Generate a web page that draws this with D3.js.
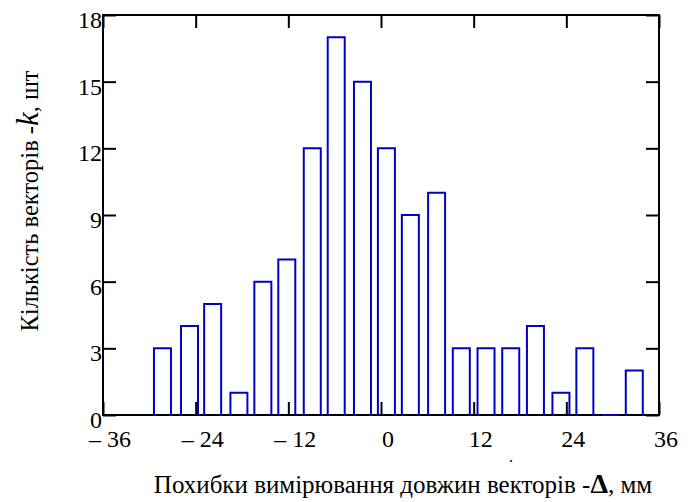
<!DOCTYPE html>
<html>
<head>
<meta charset="utf-8">
<script src="https://cdn.jsdelivr.net/npm/d3@7"></script>
<style>
  html, body { margin: 0; padding: 0; background: #fff; }
  svg { display: block; font-family: "Liberation Serif", "Times New Roman", serif; }
</style>
</head>
<body>
<svg id="chart" width="691" height="502"></svg>
<script>
// ---- data ----
const binCenters = [-28.3, -24.8, -21.8, -18.4, -15.3, -12.2, -8.9, -5.8, -2.4, 0.7,
                    3.8, 7.2, 10.4, 13.6, 16.8, 20.0, 23.3, 26.4, 29.7, 32.8];
const counts     = [3, 4, 5, 1, 6, 7, 12, 17, 15, 12,
                    9, 10, 3, 3, 3, 4, 1, 3, 0, 2];
const xTicks = [-36, -24, -12, 0, 12, 24, 36];
const yTicks = [0, 3, 6, 9, 12, 15, 18];
const xTickLabels = ["\u2013 36", "\u2013 24", "\u2013 12", "0", "12", "24", "36"];
const yTickLabels = ["0", "3", "6", "9", "12", "15", "18"];

// ---- layout ----
const L = 103, R = 659, T = 15, B = 415;
const svg = d3.select("#chart");
const x = d3.scaleLinear().domain([-36, 36]).range([L, R]);
const y = d3.scaleLinear().domain([0, 18]).range([B, T]);
const barW = 17;
const blue = "#0000c8";
const tickLen = 13;

// frame
svg.append("rect").attr("x", L).attr("y", T).attr("width", R - L).attr("height", B - T)
  .attr("fill", "none").attr("stroke", "#000").attr("stroke-width", 2);

// axes with inward ticks
const axB = svg.append("g").attr("transform", `translate(0,${B})`)
  .call(d3.axisTop(x).tickValues(xTicks).tickSize(tickLen).tickFormat(""));
const axT = svg.append("g").attr("transform", `translate(0,${T})`)
  .call(d3.axisBottom(x).tickValues(xTicks).tickSize(tickLen).tickFormat(""));
const axL = svg.append("g").attr("transform", `translate(${L},0)`)
  .call(d3.axisRight(y).tickValues(yTicks).tickSize(tickLen).tickFormat(""));
const axR = svg.append("g").attr("transform", `translate(${R},0)`)
  .call(d3.axisLeft(y).tickValues(yTicks).tickSize(tickLen).tickFormat(""));
[axB, axT, axL, axR].forEach(g => {
  g.select(".domain").remove();
  g.selectAll(".tick line").attr("stroke", "#000").attr("stroke-width", 2);
});

// tick labels
svg.append("g").selectAll("text").data(xTicks).join("text")
  .attr("x", d => x(d) + 7).attr("y", B + 32)
  .attr("text-anchor", "middle").attr("font-size", 24).attr("fill", "#000")
  .text((d, i) => xTickLabels[i]);
svg.append("g").selectAll("text").data(yTicks).join("text")
  .attr("x", L - 1).attr("y", d => y(d) + 13)
  .attr("text-anchor", "end").attr("font-size", 24).attr("fill", "#000")
  .text((d, i) => yTickLabels[i]);

// bars (open outlines)
svg.append("g").selectAll("path").data(binCenters).join("path")
  .attr("d", (c, i) => {
    const x0 = x(c) - barW / 2, x1 = x(c) + barW / 2, yt = y(counts[i]);
    return `M${x0},${B}V${yt}H${x1}V${B}`;
  })
  .attr("fill", "none").attr("stroke", blue).attr("stroke-width", 2);

// axis titles
const xt = svg.append("text").attr("x", 403).attr("y", 493)
  .attr("text-anchor", "middle").attr("font-size", 25).attr("fill", "#000");
xt.append("tspan").text("Похибки вимірювання довжин векторів -");
xt.append("tspan").attr("font-weight", "bold").attr("font-size", 28).text("\u0394");
xt.append("tspan").text(", мм");

const yt = svg.append("text").attr("transform", `translate(38,201) rotate(-90)`)
  .attr("text-anchor", "middle").attr("font-size", 24.5).attr("fill", "#000");
yt.append("tspan").text("Кількість векторів -");
yt.append("tspan").attr("font-style", "italic").attr("font-size", 31).text("k");
yt.append("tspan").text(", шт");

// stray dot in the reference
svg.append("text").attr("x", 509).attr("y", 462).attr("font-size", 16).attr("fill", "#000").text(".");
</script>
</body>
</html>
